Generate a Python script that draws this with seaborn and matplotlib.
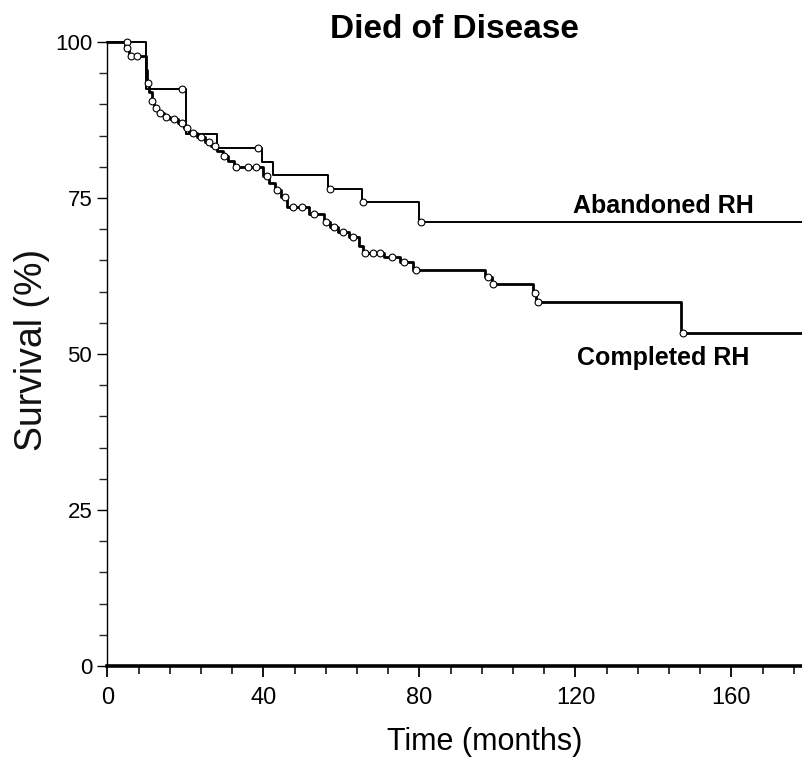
import numpy as np
import pandas as pd
import matplotlib
matplotlib.use("Agg")
import matplotlib.pyplot as plt
import seaborn as sns
from matplotlib import font_manager as fm
from matplotlib.ticker import MultipleLocator

# ---------------- data ----------------
title = "Died of Disease"
x_label = "Time (months)"
y_label = "Survival (%)"
x_ticks = [0, 40, 80, 120, 160]
y_ticks = [0, 25, 50, 75, 100]
followup_end = 180

# Abandoned RH: step times (months) and survival (%) after each step
aband_time = [0, 10.0, 20.2, 28.0, 39.5, 42.4, 56.6, 65.2, 79.8]
aband_surv = [100, 92.5, 85.2, 83.0, 80.8, 78.7, 76.4, 74.3, 71.2]
aband_censor = [5.0, 19.0, 38.5, 57.0, 65.6, 80.3]

# Completed RH
comp_time = [0, 4.5, 5.5, 9.8, 10.2, 10.7, 11.3, 12.0, 13.0, 14.5, 16.0, 18.0,
             19.5, 21.0, 23.0, 25.0, 26.5, 28.0, 29.5, 31.0, 32.5, 40.0, 41.5,
             43.0, 44.5, 46.0, 51.6, 55.5, 57.0, 59.0, 62.0, 64.5, 65.6, 71.0,
             75.0, 78.4, 96.8, 98.5, 109.0, 110.0, 147.0]
comp_surv = [100, 99.0, 97.8, 95.5, 93.5, 92.0, 90.5, 89.5, 88.6, 88.0, 87.6, 87.0,
             86.2, 85.4, 84.8, 84.0, 83.4, 82.5, 81.7, 80.9, 79.9, 78.5, 77.4,
             76.3, 75.2, 73.6, 72.4, 71.2, 70.4, 69.5, 68.7, 67.3, 66.2, 65.5,
             64.8, 63.5, 62.3, 61.2, 59.8, 58.4, 53.4]
comp_censor = [5.0, 6.0, 7.5, 10.5, 11.5, 12.5, 13.5, 15.0, 17.0, 19.0, 20.5,
               22.0, 24.0, 26.0, 27.5, 30.0, 33.0, 36.0, 38.0, 41.0, 43.5, 45.5,
               47.5, 50.0, 53.0, 56.0, 58.0, 60.5, 63.0, 66.0, 68.0, 70.0, 73.0,
               76.0, 79.0, 97.5, 98.8, 109.5, 110.5, 147.5]

# ---------------- helpers ----------------
def step_frame(times, surv, end):
    t = list(times) + [end]
    s = list(surv) + [surv[-1]]
    return pd.DataFrame({"time": t, "surv": s})

def censor_frame(times, step_t, step_s):
    step_t = np.asarray(step_t)
    step_s = np.asarray(step_s)
    idx = np.searchsorted(step_t, np.asarray(times), side="right") - 1
    return pd.DataFrame({"time": times, "surv": step_s[idx]})

sns.set_theme(style="white")
names = {f.name for f in fm.fontManager.ttflist}
narrow = "Liberation Sans Narrow" if "Liberation Sans Narrow" in names else "Liberation Sans"
plt.rcParams["font.family"] = ["Liberation Sans", "DejaVu Sans"]

fig = plt.figure(figsize=(8.03, 7.68), dpi=100)
W, H = 803, 768
x0, x1, ytop, ybot = 107.5, 803, 42, 666
ax = fig.add_axes([x0 / W, 1 - ybot / H, (x1 - x0) / W, (ybot - ytop) / H])

ab = step_frame(aband_time, aband_surv, followup_end)
co = step_frame(comp_time, comp_surv, followup_end)

sns.lineplot(data=ab, x="time", y="surv", ax=ax, estimator=None, sort=False,
             drawstyle="steps-post", color="black", linewidth=1.4, clip_on=False)
sns.lineplot(data=co, x="time", y="surv", ax=ax, estimator=None, sort=False,
             drawstyle="steps-post", color="black", linewidth=2.0, clip_on=False)

abc = censor_frame(aband_censor, aband_time, aband_surv)
coc = censor_frame(comp_censor, comp_time, comp_surv)
for d in (abc, coc):
    sns.scatterplot(data=d, x="time", y="surv", ax=ax, marker="o", s=24,
                    facecolor="white", edgecolor="black", linewidth=0.8,
                    zorder=3, clip_on=False)

ax.set_xlim(0, (x1 - x0) / 3.9)
ax.set_ylim(0, 100)
ax.set_xticks(x_ticks)
ax.set_yticks(y_ticks)
ax.xaxis.set_minor_locator(MultipleLocator(8))
ax.yaxis.set_minor_locator(MultipleLocator(5))
ax.tick_params(axis="x", which="major", direction="out", length=8, width=1.3,
               pad=7, labelsize=17, colors="black")
ax.tick_params(axis="x", which="minor", direction="out", length=6, width=1.3)
ax.tick_params(axis="y", which="major", direction="out", length=7, width=1.0,
               pad=4, labelsize=16, colors="black")
ax.tick_params(axis="y", which="minor", direction="out", length=6, width=1.0)
ax.tick_params(bottom=True, left=True, which="both")
for lab in ax.get_xticklabels():
    lab.set_family(narrow)

for side in ("top", "right"):
    ax.spines[side].set_visible(False)
ax.spines["left"].set_linewidth(1.0)
ax.spines["bottom"].set_linewidth(2.6)
ax.spines["left"].set_color("black")
ax.spines["bottom"].set_color("black")

ax.set_xlabel(x_label, fontsize=22, family=narrow, color="black")
ax.xaxis.set_label_coords((485 - x0) / (x1 - x0), (ybot - 727) / (ybot - ytop))
ax.xaxis.label.set_va("top")
ax.set_ylabel(y_label, fontsize=27, color="#111111")
ax.yaxis.label.set_va("center")
ax.yaxis.set_label_coords((32 - x0) / (x1 - x0), (ybot - 350) / (ybot - ytop))

fig.text(454 / W, 1 - 38 / H, title, ha="center", va="baseline",
         fontsize=24, fontweight="bold", color="black")

ax.text(119.4, 72.6, "Abandoned RH", fontsize=18, fontweight="bold",
        ha="left", va="baseline", color="black")
ax.text(120.4, 48.2, "Completed RH", fontsize=18, fontweight="bold",
        ha="left", va="baseline", color="black")

fig.savefig("out.png", dpi=100, facecolor="white")
